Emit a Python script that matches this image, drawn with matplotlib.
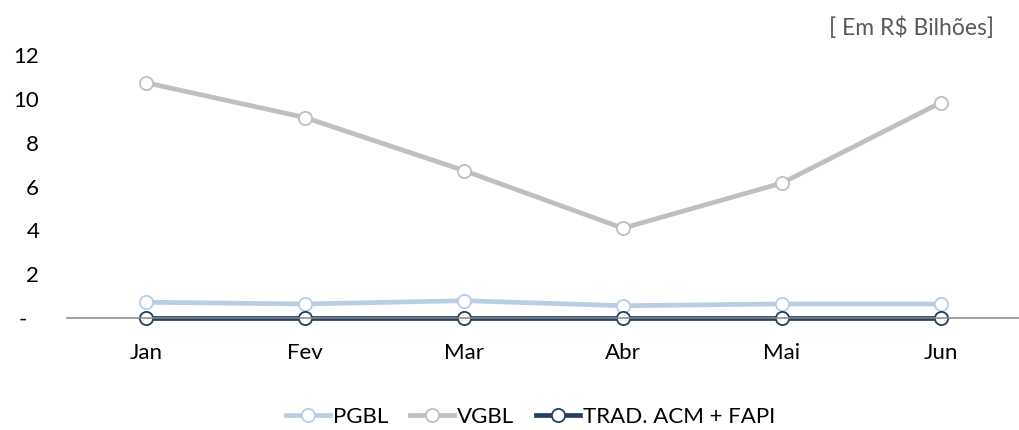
import numpy as np
import matplotlib.pyplot as plt

# dados (R$ bilhões)
meses = ["Jan", "Fev", "Mar", "Abr", "Mai", "Jun"]
pgbl = [0.72, 0.64, 0.79, 0.56, 0.64, 0.64]
vgbl = [10.74, 9.15, 6.73, 4.10, 6.16, 9.83]
trad = [0.02, 0.02, 0.02, 0.02, 0.02, 0.02]
yticks = [0, 2, 4, 6, 8, 10, 12]
ytick_labels = ["-  ", "2", "4", "6", "8", "10", "12"]

plt.rcParams['font.family'] = ['Lato', 'DejaVu Sans']

fig = plt.figure(figsize=(10.2, 4.3), dpi=100)
ax = fig.add_axes([0.0657, 0.2605, 0.9343, 0.6111])

x = np.arange(len(meses))
estilo = dict(linewidth=3.4, marker='o', markersize=9.5,
              markerfacecolor='white', markeredgewidth=1.3)
ax.plot(x, pgbl, color='#B9CDE5', markeredgecolor='#B9CDE5', label='PGBL', **estilo)
ax.plot(x, vgbl, color='#BFBFBF', markeredgecolor='#BFBFBF', label='VGBL', **estilo)
ax.plot(x, trad, color='#243F60', markeredgecolor='#243F60', label='TRAD. ACM + FAPI', **estilo)

ax.set_xlim(-0.5, len(meses) - 0.5)
ax.set_ylim(0, 12)
ax.set_xticks(x)
ax.set_xticklabels(meses)
ax.set_yticks(yticks)
ax.set_yticklabels(ytick_labels)
ax.tick_params(axis='both', length=0, labelsize=16, colors='black')
ax.tick_params(axis='y', pad=20)
ax.tick_params(axis='x', pad=18)

for s in ['top', 'right', 'left']:
    ax.spines[s].set_visible(False)
ax.spines['bottom'].set_color('#888888')
ax.spines['bottom'].set_linewidth(1.1)
for l in ax.get_lines():
    l.set_clip_on(False)

fig.text(0.975, 0.935, "[ Em R$ Bilhões]", ha='right', va='center',
         fontsize=16.5, color='#595959')

fig.legend(loc='center', bbox_to_anchor=(0.52, 0.03), ncol=3, frameon=False,
           fontsize=16, handlelength=2.0, handletextpad=0.1, columnspacing=1.0)

fig.savefig('out.png', dpi=100)
